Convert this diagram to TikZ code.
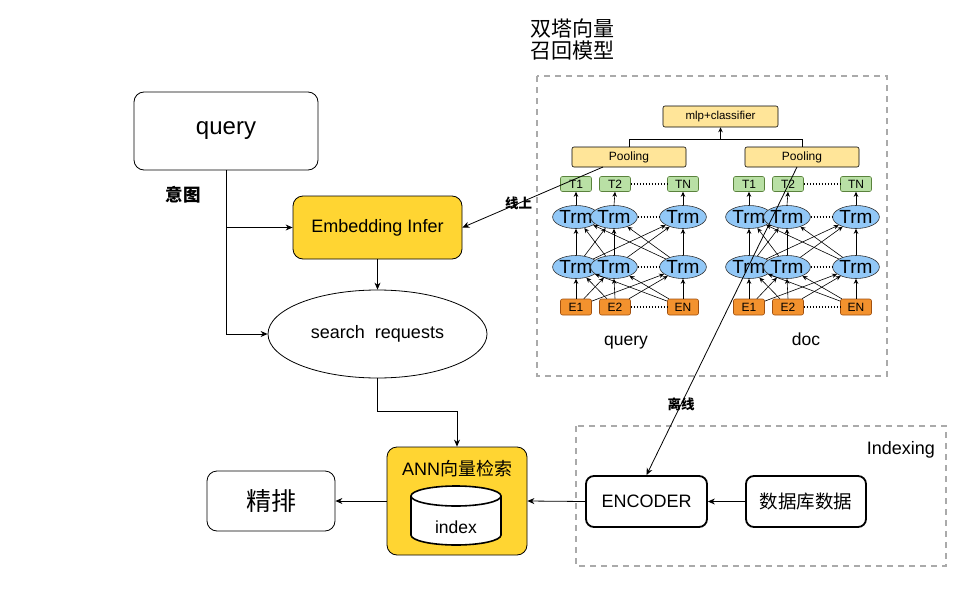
\documentclass[tikz,border=0pt]{standalone}
\usepackage{fontspec}
\setmainfont{Liberation Sans}
\newfontfamily\cjk{Noto Sans CJK SC}
\usetikzlibrary{shapes.geometric,arrows.meta}
\definecolor{gold}{RGB}{255,213,50}
\definecolor{lightyel}{RGB}{255,229,153}
\definecolor{tgreen}{RGB}{185,224,165}
\definecolor{tgreenb}{RGB}{90,130,60}
\definecolor{trmblue}{RGB}{146,200,247}
\definecolor{eorange}{RGB}{243,146,46}
\definecolor{eorangeb}{RGB}{160,80,16}
\definecolor{dashgray}{RGB}{170,170,170}
\tikzset{
  fs/.style={font=\fontsize{#1}{#1}\selectfont},
  arr/.style={draw=black, line width=0.8pt, -{Stealth[length=7pt,width=6pt]}},
  narr/.style={draw=black, line width=0.6pt, -{Stealth[length=5pt,width=4.5pt]}},
  plainbox/.style={draw=black, line width=0.8pt, rounded corners=10pt, fill=white, inner sep=0pt},
  thickbox/.style={draw=black, line width=1.8pt, rounded corners=8pt, fill=white, inner sep=0pt},
  goldbox/.style={draw=black, line width=0.8pt, rounded corners=10pt, fill=gold, inner sep=0pt},
  ybox/.style={draw=black, line width=0.6pt, rounded corners=2pt, fill=lightyel, inner sep=0pt},
  tbox/.style={draw=tgreenb, line width=0.6pt, rounded corners=2pt, fill=tgreen, inner sep=0pt, minimum width=31pt, minimum height=15pt, fs=12},
  ebox/.style={draw=eorangeb, line width=0.6pt, rounded corners=2pt, fill=eorange, inner sep=0pt, minimum width=31pt, minimum height=16pt, fs=12},
  trm/.style={ellipse, draw=black!80, line width=0.6pt, fill=trmblue, inner sep=0pt, minimum width=38pt, minimum height=23pt, fs=19},
  dashbox/.style={draw=dashgray, line width=1.5pt, dash pattern=on 6pt off 5pt},
  dots/.style={draw=black, line width=1.2pt, dash pattern=on 1.5pt off 1.5pt},
  lbl/.style={font=\cjk\bfseries\fontsize{13.5}{13.5}\selectfont, inner sep=1pt}
}
\begin{document}
\begin{tikzpicture}[x=1pt,y=-1pt]
\useasboundingbox (0,0) rectangle (964,613);

% dashed frames
\draw[dashbox] (537,76) rectangle (887,376);
\draw[dashbox] (576,426) rectangle (946,566);

% title
\node[anchor=north west, align=left, inner sep=0pt, font=\cjk\fontsize{21}{22}\selectfont] (title) at (530,19) {双塔向量\\召回模型};
\node[anchor=east, inner sep=0pt, fs=18] (idxlbl) at (935,450) {Indexing};

% towers
\node[ybox, minimum width=115pt, minimum height=21pt, fs=11.5] (mlp) at (720.5,116.5) {mlp+classifier};
\foreach \p/\dx in {q/0, d/173} {
  \node[ybox, minimum width=114pt, minimum height=20pt, fs=12] (\p P) at ({629+\dx},157) {Pooling};
  \node[tbox] (\p T1) at ({576+\dx},184) {T1};
  \node[tbox] (\p T2) at ({615+\dx},184) {T2};
  \node[tbox] (\p T3) at ({683+\dx},184) {TN};
  \node[trm] (\p U1) at ({576+\dx},217) {Trm};
  \node[trm] (\p U2) at ({614+\dx},217) {Trm};
  \node[trm] (\p U3) at ({683+\dx},217) {Trm};
  \node[trm] (\p L1) at ({576+\dx},267) {Trm};
  \node[trm] (\p L2) at ({614+\dx},267) {Trm};
  \node[trm] (\p L3) at ({683+\dx},267) {Trm};
  \node[ebox] (\p E1) at ({576+\dx},307) {E1};
  \node[ebox] (\p E2) at ({615+\dx},307) {E2};
  \node[ebox] (\p E3) at ({683+\dx},307) {EN};
  \draw[dots] (\p T2.east) -- (\p T3.west);
  \draw[dots] (\p U2.east) -- (\p U3.west);
  \draw[dots] (\p L2.east) -- (\p L3.west);
  \draw[dots] (\p E2.east) -- (\p E3.west);
  \foreach \i in {1,2,3} {
    \draw[narr] (\p U\i.north) -- (\p T\i.south);
    \foreach \j in {1,2,3} {
      \ifnum\i=\j
        \draw[narr] (\p L\i.north) -- (\p U\j.south);
        \draw[narr] (\p E\i.north) -- (\p L\j.south);
      \else
        \draw[narr] (\p L\i) -- (\p U\j);
        \draw[narr] (\p E\i) -- (\p L\j);
      \fi
    }
  }
}
\node[fs=17.5, anchor=base] (qlbl) at (626,345) {query};
\node[fs=17.5, anchor=base] (dlbl) at (806,345) {doc};
\draw[line width=0.8pt, -{Stealth[length=5pt,width=4.5pt]}] (qP.north) |- (mlp.south |- 0,139) -- (mlp.south);
\draw[line width=0.8pt] (dP.north) |- (mlp.south |- 0,139);

% left flow
\node[plainbox, minimum width=184pt, minimum height=78pt, fs=24] (query) at (226,131) {query};
\node[font=\cjk\bfseries\fontsize{17.5}{17.5}\selectfont, inner sep=0pt] (yitu) at (183,195) {意图};
\node[goldbox, minimum width=169pt, minimum height=63pt, fs=18] (emb) at (377.5,227.5) {Embedding Infer};
\node[ellipse, draw=black, line width=0.8pt, inner sep=0pt, minimum width=219pt, minimum height=88pt, fs=18] (search) at (377.5,334) {search\ \ requests};
\node[goldbox, minimum width=140pt, minimum height=108pt] (ann) at (457,501) {};
\node[inner sep=0pt, font=\fontsize{18}{18}\selectfont] (anntxt) at (457,469) {ANN{\cjk 向量检索}};
\path[draw=black, fill=white, line width=1.6pt] (411,496) -- (411,535) arc[start angle=180, end angle=360, x radius=45pt, y radius=10pt] -- (501,496) arc[start angle=0, end angle=180, x radius=45pt, y radius=10pt] -- cycle;
\draw[line width=1.6pt] (411,496) arc[start angle=180, end angle=360, x radius=45pt, y radius=10pt];
\node[fs=17.5, inner sep=0pt] (idx) at (456,527) {index};
\node[plainbox, minimum width=128pt, minimum height=60pt, font=\cjk\fontsize{25}{25}\selectfont] (jp) at (271,501) {精排};
\node[thickbox, minimum width=121pt, minimum height=51pt, fs=18] (enc) at (646.5,501.5) {ENCODER};
\node[thickbox, minimum width=120pt, minimum height=51pt, font=\cjk\fontsize{18.5}{18.5}\selectfont] (db) at (806,501.5) {数据库数据};

\coordinate (br) at (query.south |- emb.west);
\draw[line width=0.8pt] (query.south) -- (br);
\draw[arr] (br) -- (emb.west);
\draw[arr] (br) |- (search.west);
\draw[arr] (emb.south) -- (search.north);
\draw[arr] (search.south) -- ++(0,33) -| (ann.north);
\draw[arr] (ann.west) -- (jp.east);
\draw[arr] (enc.west) -- (ann.east);
\draw[arr] (db.west) -- (enc.east);

\coordinate (onsrc) at (603,167);
\coordinate (offsrc) at (797,167);
\draw[arr] (onsrc) -- node[lbl, pos=0.6] {线上} (emb.east);
\draw[arr] (offsrc) -- node[lbl, pos=0.77] {离线} (enc.north);
\end{tikzpicture}
\end{document}
